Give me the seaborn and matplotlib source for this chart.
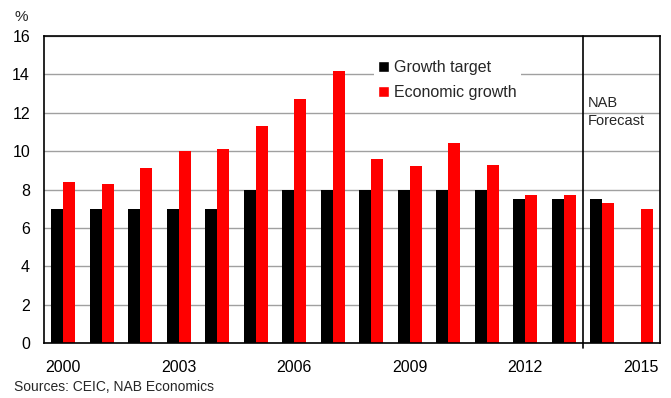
import matplotlib
matplotlib.use("Agg")
import matplotlib.pyplot as plt
import seaborn as sns
import pandas as pd
import numpy as np

years = [str(y) for y in range(2000, 2016)]
growth_target = [7, 7, 7, 7, 7, 8, 8, 8, 8, 8, 8, 8, 7.5, 7.5, 7.5, np.nan]
economic_growth = [8.4, 8.3, 9.1, 10.0, 10.1, 11.3, 12.7, 14.2, 9.6, 9.2, 10.4, 9.3, 7.7, 7.7, 7.3, 7.0]
series_names = ["Growth target", "Economic growth"]
tick_years = ["2000", "2003", "2006", "2009", "2012", "2015"]

df = pd.DataFrame({
    "year": years * 2,
    "value": growth_target + economic_growth,
    "series": [series_names[0]] * len(years) + [series_names[1]] * len(years),
})

sns.set_theme(style="white")
plt.rcParams["font.family"] = ["Liberation Sans", "DejaVu Sans"]

fig = plt.figure(figsize=(6.71, 3.98), dpi=100)
ax = fig.add_axes([44 / 671, 55 / 398, 616 / 671, 307 / 398])

sns.barplot(data=df, x="year", y="value", hue="series", order=years,
            hue_order=series_names, palette=["#000000", "#ff0000"],
            width=0.62, saturation=1, ax=ax, legend=False, linewidth=0)

ax.set_ylim(0, 16)
ax.set_xlim(-0.5, len(years) - 0.5)
ax.set_yticks(range(0, 17, 2))
ax.yaxis.grid(True, color="#a0a0a0", linewidth=1)
ax.set_axisbelow(True)
ax.set_xticks([years.index(t) for t in tick_years])
ax.set_xticklabels(tick_years)
ax.tick_params(axis="both", length=0, labelsize=11.5, colors="black")
ax.tick_params(axis="x", pad=12)
ax.tick_params(axis="y", pad=10)
ax.set_xlabel("")
ax.set_ylabel("")
for s in ax.spines.values():
    s.set_color("black")
    s.set_linewidth(1.2)

# forecast divider
ax.axvline(13.5, ymin=-0.015, ymax=1, color="black", linewidth=1.2, clip_on=False)
ax.text(13.62, 11.2, "NAB\nForecast", fontsize=10.5, va="bottom", ha="left", linespacing=1.35)

# legend
from matplotlib.patches import Patch
handles = [Patch(facecolor="#000000"), Patch(facecolor="#ff0000")]
leg = fig.legend(handles, series_names, loc="upper left",
                 bbox_to_anchor=(366 / 671, 1 - 48 / 398), frameon=True,
                 fontsize=11.5, handlelength=0.7, handleheight=0.7,
                 handletextpad=0.3, labelspacing=0.65, borderpad=0.25)
leg.get_frame().set_edgecolor("none")
leg.get_frame().set_facecolor("white")
leg.get_frame().set_alpha(1)
leg.get_frame().set_boxstyle("square", pad=0)

fig.text(14 / 671, 1 - 17 / 398, "%", fontsize=11, ha="left", va="center")
fig.text(14 / 671, 1 - 387 / 398, "Sources: CEIC, NAB Economics", fontsize=10,
         ha="left", va="center")

fig.savefig("out.png", dpi=100)
